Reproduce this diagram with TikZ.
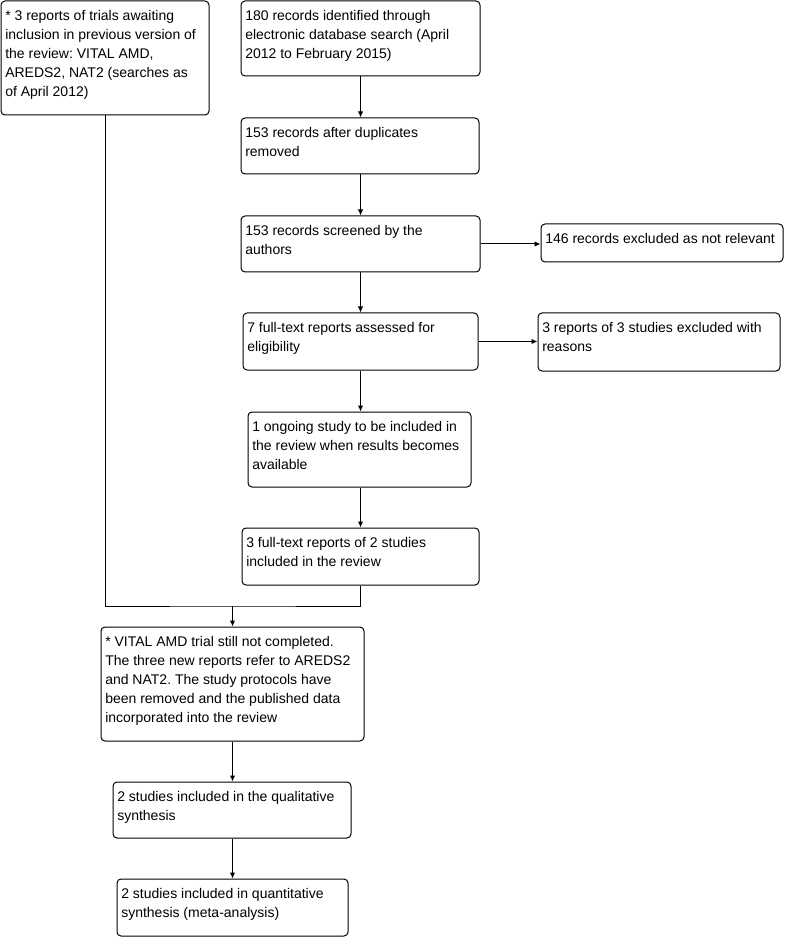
\documentclass[tikz,border=0pt]{standalone}
\usepackage{fontspec}
\setmainfont{Liberation Sans}
\frenchspacing
\usetikzlibrary{fit,calc,arrows.meta}
\begin{document}
\begin{tikzpicture}[x=0.75pt,y=-0.75pt,
  box/.style={draw=black,line width=0.75pt,rounded corners=3pt,inner sep=0pt,fill=white},
  txt/.style={inner sep=0pt,anchor=north west,align=left,font=\fontsize{10.5pt}{14.25pt}\selectfont},
  arr/.style={draw=black,line width=0.75pt,-{Latex[length=4.5pt,width=4pt]}},
  ln/.style={draw=black,line width=0.75pt}]
\useasboundingbox[fill=white] (0,0) rectangle (785,937);
% boxes
\node[box,fit={(1,1)(209,115)}] (a) {};
\node[box,fit={(241,1)(480,76)}] (b) {};
\node[box,fit={(241,118)(479,174)}] (c) {};
\node[box,fit={(241,216)(480,272)}] (d) {};
\node[box,fit={(541,224)(783,262)}] (e) {};
\node[box,fit={(243,313)(478,370)}] (f) {};
\node[box,fit={(538,313)(780,371)}] (g) {};
\node[box,fit={(248,412)(471,487)}] (h) {};
\node[box,fit={(242,528)(479,585)}] (i) {};
\node[box,fit={(101,627)(364,741)}] (j) {};
\node[box,fit={(113,782)(351,838)}] (k) {};
\node[box,fit={(117,879)(348,936)}] (l) {};
% texts
\node[txt] (ta) at ($(a.north west)+(4.5,6.2)$) {\strut * 3 reports of trials awaiting\\inclusion in previous version of\\the review: VITAL AMD,\\AREDS2, NAT2 (searches as\\of April 2012)};
\node[txt] (tb) at ($(b.north west)+(4.5,6.2)$) {\strut 180 records identified through\\electronic database search (April\\2012 to February 2015)};
\node[txt] (tc) at ($(c.north west)+(4.5,6.2)$) {\strut 153 records after duplicates\\removed};
\node[txt] (td) at ($(d.north west)+(4.5,6.2)$) {\strut 153 records screened by the\\authors};
\node[txt] (te) at ($(e.north west)+(4.5,6.5)$) {\strut 146 records excluded as not relevant};
\node[txt] (tf) at ($(f.north west)+(4.5,6.2)$) {\strut 7 full-text reports assessed for\\eligibility};
\node[txt] (tg) at ($(g.north west)+(4.5,6.2)$) {\strut 3 reports of 3 studies excluded with\\reasons};
\node[txt] (th) at ($(h.north west)+(4.5,6.2)$) {\strut 1 ongoing study to be included in\\the review when results becomes\\available};
\node[txt] (ti) at ($(i.north west)+(4.5,6.2)$) {\strut 3 full-text reports of 2 studies\\included in the review};
\node[txt] (tj) at ($(j.north west)+(4.5,6.2)$) {\strut * VITAL AMD trial still not completed.\\The three new reports refer to AREDS2\\and NAT2. The study protocols have\\been removed and the published data\\incorporated into the review};
\node[txt] (tk) at ($(k.north west)+(4.5,6.2)$) {\strut 2 studies included in the qualitative\\synthesis};
\node[txt] (tl) at ($(l.north west)+(4.5,6.2)$) {\strut 2 studies included in quantitative\\synthesis (meta-analysis)};
% connectors
\coordinate (m) at (232.5,606);
\draw[arr] (b.south) -- (c.north -| b.south);
\draw[arr] (c.south -| b.south) -- (d.north -| b.south);
\draw[arr] (d.south -| b.south) -- (f.north -| b.south);
\draw[arr] (f.south -| b.south) -- (h.north -| b.south);
\draw[arr] (h.south -| b.south) -- (i.north -| b.south);
\draw[arr] (d.east) -- (d.east -| e.west);
\draw[arr] (f.east) -- (f.east -| g.west);
\draw[ln] (a.south) |- (m) -| (i.south -| b.south);
\draw[arr] (m) -- (j.north -| m);
\draw[arr] (j.south -| m) -- (k.north -| m);
\draw[arr] (k.south -| m) -- (l.north -| m);
\end{tikzpicture}
\end{document}
